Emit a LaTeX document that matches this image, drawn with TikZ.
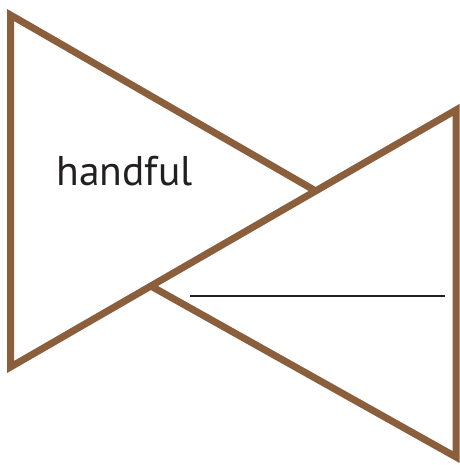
\documentclass[tikz,border=0pt]{standalone}
\usepackage{fontspec}
\setmainfont{PT Sans}
\usetikzlibrary{calc}
\definecolor{brn}{RGB}{139,94,60}
\definecolor{ink}{RGB}{35,31,32}
\begin{document}
\begin{tikzpicture}[x=1pt,y=-1pt,
  edge/.style={draw=brn,line width=7pt,line join=miter,line cap=butt},
  rule/.style={draw=ink,line width=2.6pt},
  word/.style={font=\fontsize{41.5}{45}\selectfont,text=ink,anchor=base,inner sep=0pt}]
\useasboundingbox (0,0) rectangle (459,465);
\coordinate (A) at (10.5,15);
\coordinate (B) at (10.5,367);
\coordinate (C) at (456,110);
\coordinate (D) at (456,457);
\coordinate (P) at ($(B)!0.315!(C)$);
\coordinate (Q) at ($(B)!0.685!(C)$);
\draw[edge] (Q) -- (A) -- (B) -- (C) -- (D) -- (P);
\coordinate (R1) at (190,296);
\coordinate (R2) at (445,296);
\draw[rule] (R1) -- (R2);
\node[word] (w) at (124.5,185.5) {handful};
\end{tikzpicture}
\end{document}
